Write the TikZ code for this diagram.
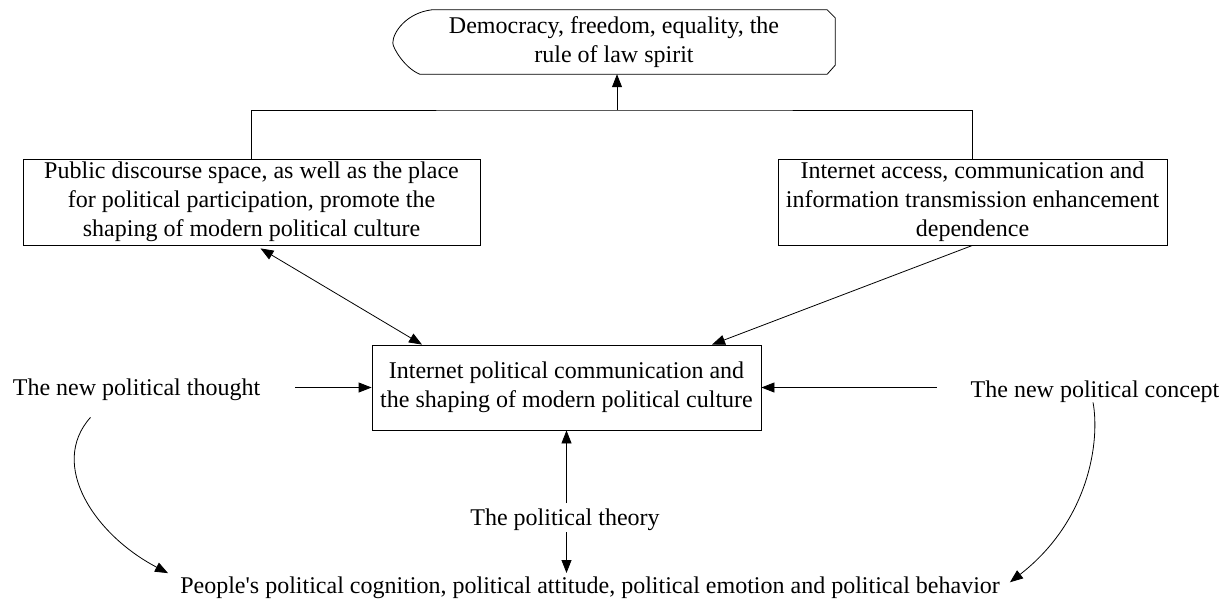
\documentclass[tikz,border=0pt]{standalone}
\usepackage{fontspec}
\setmainfont{Liberation Serif}
\newfontfamily\serifplain{Liberation Serif}
\usetikzlibrary{arrows.meta}
\begin{document}
\begin{tikzpicture}[x=1pt,y=-1pt,
  every node/.style={font=\serifplain\fontsize{24}{29}\selectfont, align=center},
  box/.style={draw, line width=0.8pt, rectangle, inner sep=0pt},
  lbl/.style={inner sep=0pt, anchor=base},
  conn/.style={line width=0.8pt},
  arr/.style={conn, -{Triangle[length=13pt,width=10pt]}},
  darr/.style={conn, {Triangle[length=13pt,width=10pt]}-{Triangle[length=13pt,width=10pt]}}]
\useasboundingbox (0,0) rectangle (1230,603);

% top display shape
\node[inner sep=0pt, minimum width=442pt, minimum height=64pt] (top) at (614,42)
  {Democracy, freedom, equality, the\\rule of law spirit};
\draw[conn] ([xshift=39pt]top.north west) -- ([xshift=-8pt]top.north east)
  -- ([yshift=-8pt]top.north east) -- ([yshift=9pt]top.south east)
  -- ([xshift=-8pt]top.south east) -- ([xshift=27pt]top.south west)
  .. controls ([xshift=12pt,yshift=6pt]top.south west) and ([yshift=-6pt]top.west) .. ([yshift=-1pt]top.west)
  .. controls ([yshift=10pt]top.west) and ([xshift=14pt,yshift=-3pt]top.north west) .. ([xshift=39pt]top.north west);

\node[box, minimum width=457pt, minimum height=86pt] (left) at (251.5,202)
  {Public discourse space, as well as the place\\for political participation, promote the\\shaping of modern political culture};
\node[box, minimum width=389pt, minimum height=86pt] (right) at (972.5,202)
  {Internet access, communication and\\information transmission enhancement\\dependence};
\node[box, minimum width=389pt, minimum height=85pt] (center) at (566.5,387.5)
  {Internet political communication and\\the shaping of modern political culture};

\node[lbl] (thought) at (136.5,395) {The new political thought};
\node[lbl] (concept) at (1095,397) {The new political concept};
\node[lbl] (theory) at (565,525) {The political theory};
\node[lbl] (people) at (590,593) {People's political cognition, political attitude, political emotion and political behavior};

% top junction
\coordinate (junc) at (617,110);
\draw[conn] (left.north) |- (junc) -| (right.north);
\draw[arr] (junc) -- (junc |- top.south);

% boxes to center
\draw[darr] ([xshift=9pt,yshift=-3pt]left.south) -- ([xshift=-144.5pt]center.north);
\draw[arr] (right.south) -- ([xshift=145.5pt]center.north);

% side inputs
\coordinate (ta) at ([xshift=35pt]thought.east);
\coordinate (ca) at ([xshift=-34pt]concept.west);
\draw[arr] (ta |- center.west) -- (center.west);
\draw[arr] (ca |- center.east) -- (center.east);

% theory
\coordinate (thtop) at ([yshift=22pt]theory.base);
\coordinate (thbot) at ([yshift=-7pt]theory.base);
\coordinate (pptop) at ([yshift=20pt]people.base);
\draw[arr] (center.south |- thtop) -- (center.south);
\draw[arr] (center.south |- thbot) -- (center.south |- pptop);

% curves
\draw[arr] ([xshift=-46pt,yshift=-17pt]thought.south)
  .. controls (48,465) and (95,535) .. ([xshift=-12pt,yshift=3pt]people.north west);
\draw[arr] ([xshift=-2pt]concept.south)
  .. controls (1100,440) and (1090,520) .. ([xshift=10pt,yshift=5pt]people.east);
\end{tikzpicture}
\end{document}
